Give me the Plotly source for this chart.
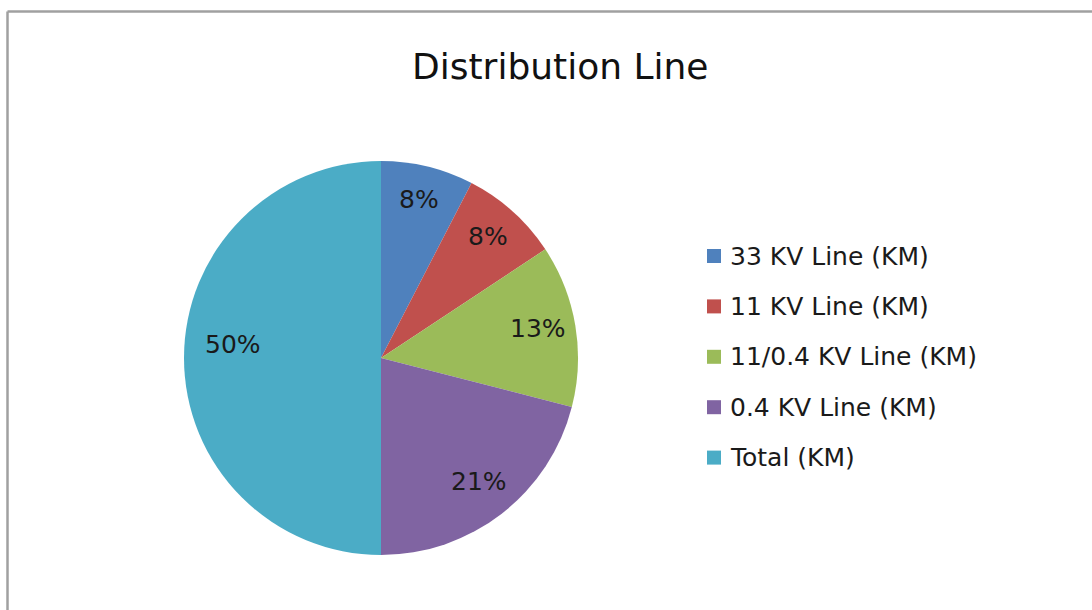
import math
import plotly.graph_objects as go

# Distribution network line lengths (km)
categories = ["33 KV Line (KM)", "11 KV Line (KM)", "11/0.4 KV Line (KM)",
              "0.4 KV Line (KM)", "Total (KM)"]
lengths_km = [152, 162, 266, 420, 1000]
colors = ["#4F81BD", "#C0504D", "#9BBB59", "#8064A2", "#4BACC6"]
title_text = "Distribution Line"

W, H = 1092, 610
CX, CY, R = 381, 358, 197          # pie centre / radius in px
FONT = "DejaVu Sans"


def px_x(x):
    return x / W


def px_y(y):
    return 1 - y / H


fig = go.Figure(go.Pie(
    labels=categories,
    values=lengths_km,
    sort=False,
    direction="clockwise",
    rotation=0,
    marker=dict(colors=colors, line=dict(width=0)),
    textinfo="none",
    hoverinfo="label+value+percent",
    showlegend=False,
    domain=dict(x=[px_x(CX - R), px_x(CX + R)],
                y=[px_y(CY + R), px_y(CY - R)]),
))

annotations = []
shapes = []

# percentage labels placed along each slice's mid-angle
total = sum(lengths_km)
cum = 0
for v in lengths_km:
    frac = v / total
    mid = math.radians((cum + v / 2) / total * 360)
    cum += v
    rf = 0.81 if frac < 0.4 else 0.75
    lx = CX + rf * R * math.sin(mid)
    ly = CY - rf * R * math.cos(mid) - (3 if frac < 0.4 else 14)
    annotations.append(dict(
        x=px_x(lx), y=px_y(ly), xref="paper", yref="paper",
        text=f"{round(frac * 100)}%", showarrow=False,
        xanchor="center", yanchor="middle",
        font=dict(family=FONT, size=25, color="#1a1a1a"),
    ))

# legend: square swatch + label per category
LEG_X, LEG_Y0, LEG_DY, SW = 707, 256, 50.4, 14
for i, (name, c) in enumerate(zip(categories, colors)):
    yc = LEG_Y0 + i * LEG_DY
    shapes.append(dict(
        type="rect", xref="paper", yref="paper",
        x0=px_x(LEG_X), x1=px_x(LEG_X + SW),
        y0=px_y(yc + SW / 2), y1=px_y(yc - SW / 2),
        fillcolor=c, line=dict(width=0),
    ))
    annotations.append(dict(
        x=px_x(LEG_X + SW + 7), y=px_y(yc), xref="paper", yref="paper",
        text=name, showarrow=False, xanchor="left", yanchor="middle",
        font=dict(family=FONT, size=25, color="#1a1a1a"),
    ))

# chart title
annotations.append(dict(
    x=px_x(560), y=px_y(67), xref="paper", yref="paper",
    text=title_text, showarrow=False, xanchor="center", yanchor="middle",
    font=dict(family=FONT, size=36, color="#111111"),
))

# chart area frame (top and left edges)
shapes.append(dict(type="line", xref="paper", yref="paper",
                   x0=px_x(7.5), x1=1.02, y0=px_y(11.5), y1=px_y(11.5),
                   line=dict(color="#a0a0a0", width=2.5)))
shapes.append(dict(type="line", xref="paper", yref="paper",
                   x0=px_x(7.5), x1=px_x(7.5), y0=px_y(11.5), y1=-0.02,
                   line=dict(color="#a0a0a0", width=2.5)))

fig.update_layout(
    width=W, height=H, autosize=False,
    margin=dict(l=0, r=0, t=0, b=0),
    paper_bgcolor="white", plot_bgcolor="white",
    annotations=annotations, shapes=shapes,
)

fig.write_html("out.html")
